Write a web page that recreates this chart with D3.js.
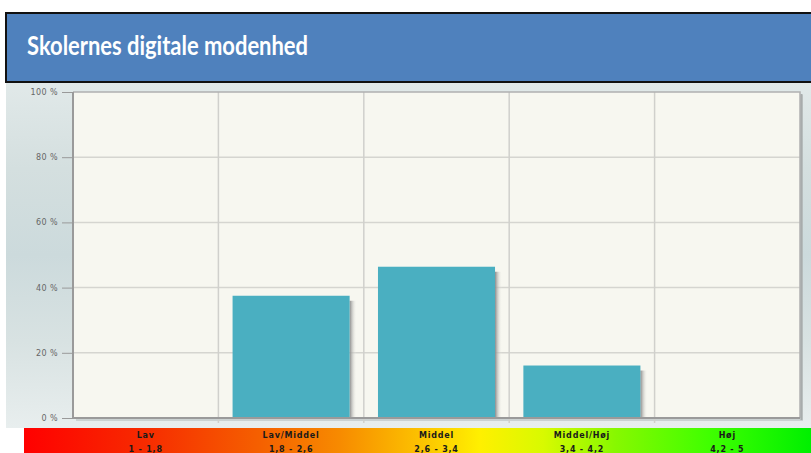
<!DOCTYPE html>
<html><head><meta charset="utf-8">
<script src="https://cdn.jsdelivr.net/npm/d3@7"></script>
<style>html,body{margin:0;padding:0;background:#fff;overflow:hidden}</style>
</head><body><svg id="c" width="811" height="453"></svg>
<script>
const title = "Skolernes digitale modenhed";
const categories = ["Lav", "Lav/Middel", "Middel", "Middel/Høj", "Høj"];
const ranges = ["1 - 1,8", "1,8 - 2,6", "2,6 - 3,4", "3,4 - 4,2", "4,2 - 5"];
const values = [0, 37.5, 46.4, 16.1, 0];
const yTicks = [0, 20, 40, 60, 80, 100];

(function(){
const svg = d3.select("#c");
const defs = svg.append("defs");

// background gradient
const bg = defs.append("linearGradient").attr("id","bg").attr("x1",0).attr("y1",0).attr("x2",0).attr("y2",1);
[[0,"#e1e9e9"],[0.25,"#d4dfdf"],[0.5,"#ccdadc"],[0.75,"#d8e2e2"],[1,"#e8eeee"]].forEach(s=>bg.append("stop").attr("offset",s[0]).attr("stop-color",s[1]));
svg.append("rect").attr("x",6).attr("y",82).attr("width",805).attr("height",346).attr("fill","url(#bg)");

// title box
svg.append("rect").attr("x",6).attr("y",13).attr("width",810).attr("height",69)
  .attr("fill","#4f81bd").attr("stroke","#111").attr("stroke-width",2);
svg.append("text").attr("x",27).attr("y",55).text(title)
  .attr("font-family","Lato, 'Open Sans', sans-serif").attr("font-weight","bold").attr("font-size",27)
  .attr("fill","#fff").attr("textLength",281).attr("lengthAdjust","spacingAndGlyphs");

const pL = 73, pR = 800, pT = 92, pB = 418;
const x = d3.scaleBand().domain(categories).range([pL, pR]).paddingInner(0.195).paddingOuter(0.0975);
const y = d3.scaleLinear().domain([0, 100]).range([pB, pT]);
const step = x.step();

// plot shadow and area
svg.append("rect").attr("x",pL+3).attr("y",pT+3).attr("width",pR-pL).attr("height",pB-pT)
  .attr("fill","#b9c0c0").attr("opacity",0.6);
svg.append("rect").attr("x",pL).attr("y",pT).attr("width",pR-pL).attr("height",pB-pT)
  .attr("fill","#f7f7f0");

// grid
const g = svg.append("g");
g.selectAll(".hg").data(yTicks.slice(1,-1)).join("line")
  .attr("x1",pL).attr("x2",pR).attr("y1",d=>y(d)).attr("y2",d=>y(d))
  .attr("stroke","#d5d5d0").attr("stroke-width",1.5);
g.selectAll(".vg").data(categories.slice(1)).join("line")
  .attr("x1",(d,i)=>pL+step*(i+1)).attr("x2",(d,i)=>pL+step*(i+1))
  .attr("y1",pT).attr("y2",pB+5)
  .attr("stroke","#d0d0cc").attr("stroke-width",1.5);

// bar shadows
const sh = defs.append("linearGradient").attr("id","sh").attr("x1",0).attr("y1",0).attr("x2",1).attr("y2",0);
sh.append("stop").attr("offset",0).attr("stop-color","#8a8a8a");
sh.append("stop").attr("offset",1).attr("stop-color","#f7f7f0").attr("stop-opacity",0);
svg.selectAll(".bs").data(values.map((v,i)=>({c:categories[i],v})).filter(d=>d.v>0)).join("rect")
  .attr("x",d=>x(d.c)+x.bandwidth()).attr("y",d=>y(d.v)+5)
  .attr("width",7).attr("height",d=>pB-y(d.v)-5).attr("fill","url(#sh)");

// bars
svg.selectAll(".b").data(values.map((v,i)=>({c:categories[i],v}))).join("rect")
  .attr("x",d=>x(d.c)).attr("y",d=>y(d.v)).attr("width",x.bandwidth()).attr("height",d=>pB-y(d.v))
  .attr("fill","#4aafc1");

// plot border
svg.append("path").attr("d",`M${pL},${pT}H${pR}V${pB}`).attr("fill","none").attr("stroke","#b0b0b0").attr("stroke-width",1.5);
svg.append("path").attr("d",`M${pL},${pT}V${pB}H${pR}`).attr("fill","none").attr("stroke","#9a9a9a").attr("stroke-width",2);
svg.append("line").attr("x1",pR+1.5).attr("x2",pR+1.5).attr("y1",pT+2).attr("y2",pB+2).attr("stroke","#a8acac").attr("stroke-width",2);

// y axis
const ya = svg.append("g").attr("transform",`translate(${pL},0)`)
  .call(d3.axisLeft(y).tickValues(yTicks).tickFormat(d=>d+" %").tickSize(11).tickPadding(4));
ya.select(".domain").remove();
ya.selectAll("line").attr("stroke","#999");
ya.selectAll("text").attr("font-family","'DejaVu Sans', Verdana, sans-serif").attr("font-size",8)
  .attr("letter-spacing",0.4).attr("fill","#666");

// colour strip
const cg = defs.append("linearGradient").attr("id","cg").attr("x1",0).attr("y1",0).attr("x2",1).attr("y2",0);
[[0,"#ff0000"],[0.15,"#f72a00"],[0.3,"#f56000"],[0.4,"#f78a00"],[0.5,"#fcc000"],[0.58,"#fff000"],[0.66,"#d8fa00"],[0.75,"#88f800"],[0.87,"#40ff00"],[1,"#00f000"]]
  .forEach(s=>cg.append("stop").attr("offset",s[0]).attr("stop-color",s[1]));
svg.append("rect").attr("x",24).attr("y",428).attr("width",787).attr("height",25).attr("fill","url(#cg)");

const lg = svg.append("g").attr("font-family","'DejaVu Sans', Verdana, sans-serif").attr("font-size",8)
  .attr("font-weight","bold").attr("letter-spacing",0.8)
  .attr("fill","#1a1a1a").attr("text-anchor","middle");
lg.selectAll(".l1").data(categories).join("text").attr("x",d=>x(d)+x.bandwidth()/2).attr("y",438).text(d=>d);
lg.selectAll(".l2").data(categories).join("text").attr("x",d=>x(d)+x.bandwidth()/2).attr("y",451.5).text((d,i)=>ranges[i]);
})();
</script></body></html>
